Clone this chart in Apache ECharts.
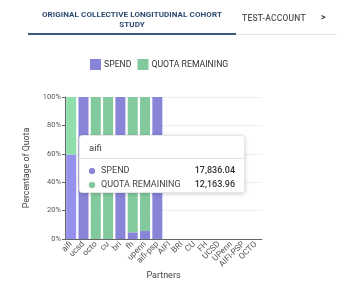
<!DOCTYPE html>
<html>
<head>
<meta charset="utf-8">
<script src="https://cdn.jsdelivr.net/npm/echarts@6/dist/echarts.min.js"></script>
<style>
  html, body { margin: 0; padding: 0; background: #fff; font-family: Roboto, "Noto Sans", sans-serif; }
  #wrap { position: relative; width: 350px; height: 291px; overflow: hidden; }
  #chart { position: absolute; left: 0; top: 0; width: 350px; height: 291px; }
  .tab1 { position: absolute; left: 28px; top: 10px; width: 208px; text-align: center; font-size: 8px; font-weight: 700; color: #2b4a6f; line-height: 9.5px; letter-spacing: 0.1px; }
  .tab2 { position: absolute; left: 242px; top: 13px; width: 64px; text-align: center; font-size: 8.5px; font-weight: 500; color: #555; letter-spacing: 0.2px; }
  .arrow { position: absolute; left: 321px; top: 12px; font-size: 9px; font-weight: 700; color: #333; }
  .line { position: absolute; left: 28px; top: 34px; width: 309px; height: 1px; background: #e4e4e4; }
  .underline { position: absolute; left: 28px; top: 33px; width: 208px; height: 2px; background: #3b5a82; }
</style>
</head>
<body>
<div id="wrap">
  <div id="chart"></div>
  <div class="tab1">ORIGINAL COLLECTIVE LONGITUDINAL COHORT<br>STUDY</div>
  <div class="tab2">TEST-ACCOUNT</div>
  <div class="arrow">&gt;</div>
  <div class="line"></div>
  <div class="underline"></div>
</div>
<script>
const categories = ['aifi', 'ucsd', 'octo', 'cu', 'bri', 'fh', 'upenn', 'aifi-psp', 'AIFI', 'BRI', 'CU', 'FH', 'UCSD', 'UPenn', 'AIFI-PSP', 'OCTO'];
const spendPct = [59.45, 100, 0, 0, 100, 4.7, 5.6, 100, 0, 0, 0, 0, 0, 0, 0, 0];
const remainingPct = [40.55, 0, 100, 100, 0, 95.3, 94.4, 0, 0, 0, 0, 0, 0, 0, 0, 0];
const yTicks = [0, 20, 40, 60, 80, 100];
const tooltipTitle = 'aifi';
const tooltipSpend = '17,836.04';
const tooltipRemaining = '12,163.96';

const chart = echarts.init(document.getElementById('chart'));
const font = 'Roboto, "Noto Sans", sans-serif';
chart.setOption({
  animation: false,
  textStyle: { fontFamily: font },
  legend: {
    top: 59,
    left: 90,
    padding: 0,
    itemWidth: 11,
    itemHeight: 11,
    itemGap: 6,
    icon: 'rect',
    textStyle: { fontSize: 8.7, color: '#333', fontFamily: font, padding: [0, 0, 0, -2] },
    data: ['SPEND', 'QUOTA REMAINING']
  },
  grid: { left: 65, right: 88, top: 97, bottom: 52, containLabel: false },
  tooltip: {
    trigger: 'axis',
    alwaysShowContent: true,
    axisPointer: { type: 'none' },
    position: [79, 135],
    padding: 0,
    borderWidth: 1,
    borderColor: '#e6e6e6',
    backgroundColor: '#fff',
    extraCssText: 'box-shadow: 0 1px 4px rgba(0,0,0,0.2); border-radius: 3px; width: 166px; height: 58px; box-sizing: border-box;',
    formatter: function () {
      const dot = c => '<span style="display:inline-block;width:6px;height:6px;border-radius:3px;background:' + c + ';margin-right:6px;box-shadow:0 0 1px rgba(0,0,0,0.3);vertical-align:middle;"></span>';
      return '<div style="font-family:Roboto,sans-serif;color:#444;">' +
        '<div style="padding:6px 9px 5px 9px;font-size:9.5px;border-bottom:1px solid #e4e4e4;line-height:11px;">' + tooltipTitle + '</div>' +
        '<div style="padding:4px 9px 0 9px;font-size:9px;line-height:14px;">' +
        '<div style="display:flex;justify-content:space-between;"><span>' + dot('#8884d8') + 'SPEND</span><span style="font-weight:500;color:#333;">' + tooltipSpend + '</span></div>' +
        '<div style="display:flex;justify-content:space-between;"><span>' + dot('#82ca9d') + 'QUOTA REMAINING</span><span style="font-weight:500;color:#333;">' + tooltipRemaining + '</span></div>' +
        '</div></div>';
    }
  },
  xAxis: {
    type: 'category',
    data: categories,
    name: 'Partners',
    nameLocation: 'middle',
    nameGap: 31,
    nameTextStyle: { fontSize: 9, color: '#444' },
    axisLine: { lineStyle: { color: '#666' } },
    axisTick: { lineStyle: { color: '#666' }, length: 3 },
    axisLabel: { rotate: 45, fontSize: 8.3, color: '#555', margin: 4, interval: 0 }
  },
  yAxis: {
    type: 'value',
    min: 0,
    max: 100,
    interval: 20,
    name: 'Percentage of Quota',
    nameLocation: 'middle',
    nameGap: 34,
    nameTextStyle: { fontSize: 8.8, color: '#444' },
    axisLine: { show: true, lineStyle: { color: '#666' } },
    axisTick: { show: true, lineStyle: { color: '#666' }, length: 3 },
    axisLabel: { fontSize: 7.5, color: '#555', margin: 4, formatter: v => yTicks.includes(v) ? v + '%' : '' },
    splitLine: { lineStyle: { color: '#eeeeee' } }
  },
  series: [
    { name: 'SPEND', type: 'bar', stack: 'q', data: spendPct, barWidth: 10, itemStyle: { color: '#8884d8' } },
    { name: 'QUOTA REMAINING', type: 'bar', stack: 'q', data: remainingPct, barWidth: 10, itemStyle: { color: '#82ca9d' } }
  ]
});
chart.dispatchAction({ type: 'showTip', seriesIndex: 0, dataIndex: 0 });
</script>
</body>
</html>
